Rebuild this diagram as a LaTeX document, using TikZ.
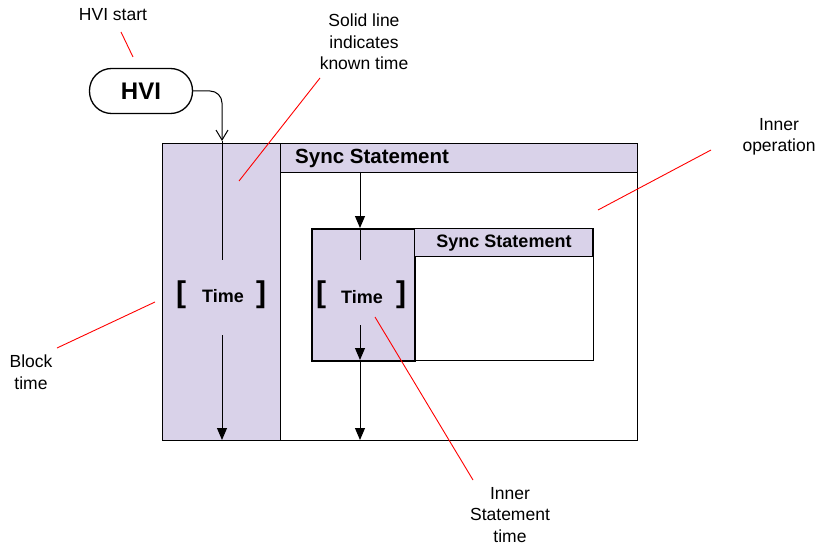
\documentclass[tikz,border=0pt]{standalone}
\usepackage{fontspec}
\setmainfont{Liberation Sans}
\usetikzlibrary{arrows.meta,positioning}
\definecolor{lav}{RGB}{217,210,233}
\definecolor{note}{RGB}{255,0,0}
\tikzset{
  box/.style={draw=black,line width=1.3pt,inner sep=0pt,anchor=north west},
  purplebox/.style={box,fill=lav},
  lbl/.style={font=\fontsize{17.5}{21.5}\selectfont,align=center,inner sep=0pt},
  callout/.style={draw=note,line width=0.9pt},
  flow/.style={draw=black,line width=1pt,-{Triangle[width=10pt,length=12pt]}},
  plain/.style={draw=black,line width=1pt},
  brk/.style={font=\fontsize{30}{30}\selectfont\bfseries,inner sep=0pt},
  tm/.style={font=\fontsize{18}{18}\selectfont\bfseries,inner sep=0pt},
}
\begin{document}
\begin{tikzpicture}[x=1pt,y=-1pt]
\useasboundingbox (0,0) rectangle (816,548);
% outer box
\node[box,minimum width=475pt,minimum height=297pt] (outer) at (162,143) {};
\node[purplebox,minimum width=118pt,minimum height=297pt] (col) at (162,143) {};
\node[purplebox,minimum width=357pt,minimum height=29pt] (sync) at (280,143) {};
\node[font=\fontsize{20.5}{20.5}\selectfont\bfseries,anchor=west,inner sep=0pt] (synct) at (295,158) {Sync Statement};
% inner box
\node[box,minimum width=282pt,minimum height=132pt] (inner) at (311,228) {};
\node[purplebox,line width=2pt,minimum width=103pt,minimum height=132pt] (icol) at (311,228) {};
\node[purplebox,minimum width=178pt,minimum height=28pt] (isync) at (414,228) {};
\node[font=\fontsize{18}{18}\selectfont\bfseries,inner sep=0pt] (isynct) at (504,243) {Sync Statement};
% time labels
\node[brk] (lb1) at (181,295) {[};
\node[tm] (t1) at (223,296) {Time};
\node[brk] (rb1) at (261,295) {]};
\node[brk] (lb2) at (321,295) {[};
\node[tm] (t2) at (362,297) {Time};
\node[brk] (rb2) at (401,295) {]};
% HVI
\node[draw=black,line width=1.3pt,rounded corners=22pt,minimum width=103pt,minimum height=45pt,inner sep=0pt,font=\fontsize{24}{24}\selectfont\bfseries] (hvi) at (141,91) {HVI};
% coordinates for flows
\coordinate (c1top) at (222,141);
\coordinate (c1mid) at (222,260);
\coordinate (c1low) at (222,335);
\coordinate (c1bot) at (222,440);
\coordinate (s1) at (360,172);
\coordinate (i1top) at (360,228);
\coordinate (i1mid) at (360,260);
\coordinate (i1low) at (360,325);
\coordinate (i1bot) at (360,360);
\coordinate (obot) at (360,440);
\draw[line width=1pt,rounded corners=12pt,-{Straight Barb[width=12pt,length=10pt]}] (hvi.east) -- (222,91) -- (c1top);
\path[plain] (c1top) -- (c1mid);
\path[flow] (c1low) -- (c1bot);
\path[flow] (s1) -- (i1top);
\path[plain] (i1top) -- (i1mid);
\path[flow] (i1low) -- (i1bot);
\path[flow] (i1bot) -- (obot);
% annotations
\node[lbl] (hvis) at (113,15) {HVI start};
\node[lbl] (solid) at (364,42) {Solid line\\indicates\\known time};
\node[lbl] (innop) at (779,137) {Inner\\operation};
\node[lbl] (blk) at (31,372) {Block\\time};
\node[lbl] (inst) at (510,515) {Inner\\Statement\\time};
\coordinate (a1) at (121,32); \coordinate (a2) at (133,57);
\coordinate (b1) at (320,78); \coordinate (b2) at (239,181);
\coordinate (c1) at (711,150); \coordinate (c2) at (598,210);
\coordinate (d1) at (57,348); \coordinate (d2) at (155,302);
\coordinate (e1) at (375,317); \coordinate (e2) at (473,480);
\path[callout] (a1) -- (a2);
\path[callout] (b1) -- (b2);
\path[callout] (c1) -- (c2);
\path[callout] (d1) -- (d2);
\path[callout] (e1) -- (e2);
\end{tikzpicture}
\end{document}
